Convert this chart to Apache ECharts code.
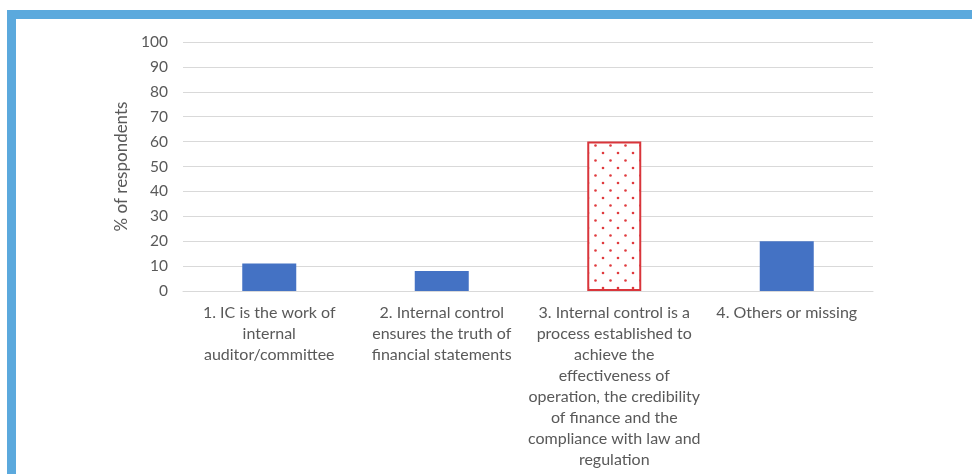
<!DOCTYPE html>
<html>
<head>
<meta charset="utf-8">
<script src="https://cdn.jsdelivr.net/npm/echarts@6/dist/echarts.min.js"></script>
<style>
  html, body { margin: 0; padding: 0; background: #fff; }
  #frame {
    position: absolute; left: 7px; top: 10px; width: 965px; height: 464px;
    border-top: 9px solid #5BA9DD; border-left: 9px solid #5BA9DD; box-sizing: border-box;
  }
  #chart { position: absolute; left: 0; top: 0; width: 972px; height: 474px; }
</style>
</head>
<body>
<div id="frame"></div>
<div id="chart"></div>
<script>
const categories = [
  '1. IC is the work of\ninternal\nauditor/committee',
  '2. Internal control\nensures the truth of\nfinancial statements',
  '3. Internal control is a\nprocess established to\nachieve the\neffectiveness of\noperation, the credibility\nof finance and the\ncompliance with law and\nregulation',
  '4. Others or missing'
];
const values = [11, 8, 60, 20];
const highlightIndex = 2;
const yTicks = { min: 0, max: 100, interval: 10 };

// staggered dot pattern for the highlighted bar
const tile = document.createElement('canvas');
tile.width = 15; tile.height = 15;
const g = tile.getContext('2d');
g.fillStyle = '#fff';
g.fillRect(0, 0, 15, 15);
g.fillStyle = '#E03A3E';
g.beginPath(); g.arc(3, 3, 1.3, 0, Math.PI * 2); g.fill();
g.beginPath(); g.arc(10.5, 10.5, 1.3, 0, Math.PI * 2); g.fill();

const data = values.map((v, i) => i === highlightIndex
  ? { value: v, itemStyle: { color: { image: tile, repeat: 'repeat' }, borderColor: '#D9353B', borderWidth: 2 } }
  : { value: v });

const chart = echarts.init(document.getElementById('chart'), null, { renderer: 'canvas' });
chart.setOption({
  animation: false,
  textStyle: { fontFamily: 'Lato' },
  grid: { left: 183, right: 99, top: 42, bottom: 183 },
  xAxis: {
    type: 'category',
    data: categories,
    axisLine: { lineStyle: { color: '#D9D9D9' } },
    axisTick: { show: false },
    axisLabel: { color: '#595959', fontSize: 16, lineHeight: 21, margin: 11, interval: 0, align: 'center' }
  },
  yAxis: {
    type: 'value',
    min: yTicks.min, max: yTicks.max, interval: yTicks.interval,
    name: '% of respondents',
    nameLocation: 'middle',
    nameGap: 42,
    nameTextStyle: { color: '#595959', fontSize: 17 },
    axisLine: { show: false },
    axisTick: { show: false },
    axisLabel: { color: '#595959', fontSize: 15.5, margin: 15 },
    splitLine: { lineStyle: { color: '#D9D9D9' } }
  },
  series: [{
    type: 'bar',
    data: data,
    barWidth: 54,
    itemStyle: { color: '#4472C4' }
  }]
});
</script>
</body>
</html>
